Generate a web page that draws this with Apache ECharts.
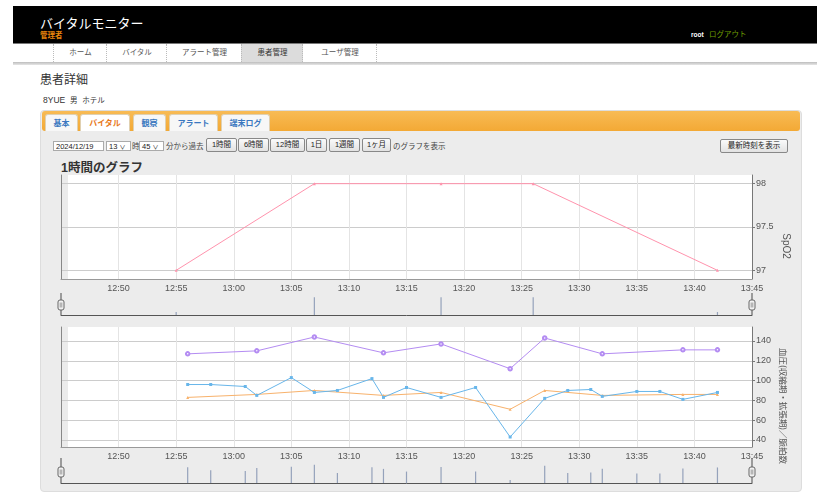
<!DOCTYPE html>
<html><head><meta charset="utf-8">
<script src="https://cdn.jsdelivr.net/npm/echarts@6.0.0/dist/echarts.min.js"></script>
<style>
html,body{margin:0;padding:0;background:#fff;width:817px;height:493px;overflow:hidden;font-family:"Liberation Sans","Noto Sans CJK JP",sans-serif;color:#333;}
.a{position:absolute;white-space:nowrap;}
.nav{position:absolute;top:44px;height:18px;line-height:18px;font-size:7.5px;color:#555;text-align:center;border-left:1px dotted #bbb;}
.tab{position:absolute;top:114px;height:17px;line-height:17px;font-size:8px;text-align:center;background:#f7f7f7;color:#3a78c0;font-weight:bold;border:1px solid #e0d0b0;border-bottom:none;border-radius:3px 3px 0 0;box-sizing:border-box;}
.btn{position:absolute;top:138px;height:14px;line-height:12px;font-size:7.5px;text-align:center;background:linear-gradient(#fafafa,#e2e2e2);border:1px solid #888;border-radius:2px;box-sizing:border-box;color:#222;}
.box{position:absolute;top:141px;height:10px;line-height:9px;font-size:7.5px;background:#fff;border:1px solid #aaa;box-sizing:border-box;padding-left:2px;color:#222;}
.t75{position:absolute;font-size:7.5px;color:#444;white-space:nowrap;}
</style></head>
<body>
<!-- header -->
<div class="a" style="left:13px;top:6px;width:804px;height:37px;background:#000;border-bottom:1px solid #777"></div>
<div class="a" style="left:40px;top:17px;color:#fff;font-size:13px;line-height:14px">バイタルモニター</div>
<div class="a" style="left:40px;top:32px;color:#e8850c;font-size:7.5px;line-height:8px;font-weight:bold">管理者</div>
<div class="a" style="left:691px;top:31px;color:#fff;font-size:6.5px;line-height:8px;font-weight:bold">root</div>
<div class="a" style="left:709px;top:30px;color:#6e9e00;font-size:7.5px;line-height:9px">ログアウト</div>
<!-- nav -->
<div class="nav" style="left:53px;width:53px">ホーム</div>
<div class="nav" style="left:106px;width:60px">バイタル</div>
<div class="nav" style="left:166px;width:75px">アラート管理</div>
<div class="nav" style="left:241px;width:61px;background:#dcdcdc;color:#333">患者管理</div>
<div class="nav" style="left:302px;width:74px">ユーザ管理</div>
<div class="a" style="left:376px;top:44px;height:18px;border-left:1px dotted #bbb"></div>
<div class="a" style="left:13px;top:62px;width:804px;height:3px;background:linear-gradient(#bdbdbd,#e6e6e6)"></div>
<!-- heading -->
<div class="a" style="left:40px;top:73px;font-size:12px;line-height:15px;color:#333">患者詳細</div>
<div class="a" style="left:43px;top:95px;font-size:8.5px;line-height:10px;color:#333">8YUE&nbsp;&nbsp;<span style="font-size:7.5px">男</span>&nbsp;&nbsp;<span style="font-size:7.5px">ホテル</span></div>
<!-- panel -->
<div class="a" style="left:40px;top:110px;width:762px;height:382px;background:#ececec;border:1px solid #ddd;border-radius:4px;box-sizing:border-box"></div>
<div class="a" style="left:42px;top:111px;width:758px;height:20px;background:linear-gradient(#f8bb55,#f3a935);border-radius:3px"></div>
<div class="tab" style="left:45px;width:33px">基本</div>
<div class="tab" style="left:80px;width:50px;background:#fff;color:#e8781a">バイタル</div>
<div class="tab" style="left:133px;width:33px">観察</div>
<div class="tab" style="left:169px;width:49px">アラート</div>
<div class="tab" style="left:221px;width:49px">端末ログ</div>
<!-- controls -->
<div class="box" style="left:53px;width:51px">2024/12/19</div>
<div class="box" style="left:106px;width:25px">13 <span style="font-size:6px">&#x2228;</span></div>
<div class="t75" style="left:132px;top:140px">時</div>
<div class="box" style="left:139px;width:25px">45 <span style="font-size:6px">&#x2228;</span></div>
<div class="t75" style="left:166px;top:140px">分から過去</div>
<div class="btn" style="left:206px;width:31px">1時間</div>
<div class="btn" style="left:238px;width:31px">6時間</div>
<div class="btn" style="left:270px;width:35px">12時間</div>
<div class="btn" style="left:306px;width:21px">1日</div>
<div class="btn" style="left:329px;width:31px">1週間</div>
<div class="btn" style="left:362px;width:29px">1ヶ月</div>
<div class="t75" style="left:393px;top:140px">のグラフを表示</div>
<div class="btn" style="left:720px;top:139px;width:68px">最新時刻を表示</div>
<div class="a" style="left:61px;top:160px;font-size:12.5px;line-height:16px;font-weight:bold;color:#333">1時間のグラフ</div>
<div id="chart" class="a" style="left:40px;top:155px;width:762px;height:335px"></div>
<script>
// ---- data ----
const xStart = '12:45', xEnd = '13:45';
const spo2Times = ['12:55','13:07','13:18','13:26','13:42'];
const spo2Values = [97, 98, 98, 98, 97];
const bpTimes = ['12:56','13:02','13:07','13:13','13:18','13:24','13:27','13:32','13:39','13:42'];
const systolic = [127, 130, 144, 128, 137, 112, 143, 127, 131, 131];
const diastolic = [83, 86, 90, 85, 88, 71, 90, 85, 86, 86];
const pulseTimes = ['12:56','12:58','13:01','13:02','13:05','13:07','13:09','13:12','13:13','13:15','13:18','13:21','13:24','13:27','13:29','13:31','13:32','13:35','13:37','13:39','13:42'];
const pulse = [96, 96, 94, 85, 103, 88, 90, 102, 83, 93, 83, 93, 43, 82, 90, 91, 84, 89, 89, 81, 88];
const spo2Ticks = [97, 97.5, 98];
const bpTicks = [40, 60, 80, 100, 120, 140];

function t(hm){ const p = hm.split(':').map(Number); return Date.UTC(2024, 11, 19, p[0], p[1]); }
function fmt(v){ const d = new Date(v); return String(d.getUTCHours()).padStart(2,'0') + ':' + String(d.getUTCMinutes()).padStart(2,'0'); }
const pairs = (times, vals) => times.map((s, i) => [t(s), vals[i]]);

// combined (average) series for the lower range selector
const comb = {};
[[bpTimes, systolic], [bpTimes, diastolic], [pulseTimes, pulse]].forEach(([ts, vs]) => {
  ts.forEach((s, i) => { const k = t(s); (comb[k] = comb[k] || []).push(vs[i]); });
});
const combData = Object.keys(comb).map(Number).sort((a,b)=>a-b).map(k => [k, comb[k].reduce((a,b)=>a+b,0) / comb[k].length]);

const X0 = t(xStart), X1 = t(xEnd);
const FF = '"Liberation Sans", Arial, sans-serif';
const L = 21, W = 691;
const grids = [
  {left:L, width:W, top:20, height:104, show:true, backgroundColor:'#fff', borderWidth:0},
  {left:L, width:W, top:140, height:20},
  {left:L, width:W, top:172, height:120, show:true, backgroundColor:'#fff', borderWidth:0},
  {left:L, width:W, top:308, height:20}
];
const xAxes = [0,1,2,3].map(i => ({
  type:'value', gridIndex:i, min:X0, max:X1, interval:300000,
  axisLine:{show:true, onZero:false, lineStyle:{color: i%2 ? '#555' : '#999', width:1}},
  axisTick:{show:false},
  axisLabel:{show: i%2===0, formatter:fmt, showMinLabel:false, showMaxLabel:true, color:'#555', fontSize:9, margin:5, fontFamily:FF},
  splitLine:{show: i%2===0, lineStyle:{color:'#e4e4e4', width:1}}
}));
function mainY(gi, mn, mx, ticks){
  return {type:'value', gridIndex:gi, position:'right', min:mn, max:mx,
    axisLine:{show:true, lineStyle:{color:'#777'}},
    axisTick:{show:true, length:3, customValues:ticks, lineStyle:{color:'#777'}},
    axisLabel:{customValues:ticks, color:'#555', fontSize:9, margin:4, fontFamily:FF},
    splitLine:{show:true, lineStyle:{color:'#cccccc'}}};
}
function leftY(gi, mn, mx){
  return {type:'value', gridIndex:gi, position:'left', min:mn, max:mx,
    axisLine:{show:true, lineStyle:{color:'#888'}}, axisTick:{show:false}, axisLabel:{show:false}, splitLine:{show:false}};
}
const yAxes = [
  mainY(0, 96.9, 98.1, spo2Ticks),
  leftY(0, 96.9, 98.1),
  {type:'value', gridIndex:1, min:96.8, max:98.15, show:false, splitLine:{show:false}},
  mainY(2, 32.9, 154.1, bpTicks),
  leftY(2, 32.9, 154.1),
  {type:'value', gridIndex:3, min:69, max:111, show:false, splitLine:{show:false}}
];
function handle(x, yTop, yBot, hy){
  return [
    {type:'line', shape:{x1:x, y1:yTop, x2:x, y2:yBot}, style:{stroke:'#666', lineWidth:1.2}, z:10},
    {type:'rect', shape:{x:x-3, y:hy, width:6, height:10, r:2}, style:{fill:'#f2f2f2', stroke:'#666', lineWidth:1}, z:11},
    {type:'line', shape:{x1:x-0.8, y1:hy+2.5, x2:x-0.8, y2:hy+7.5}, style:{stroke:'#777', lineWidth:0.7}, z:12},
    {type:'line', shape:{x1:x+0.8, y1:hy+2.5, x2:x+0.8, y2:hy+7.5}, style:{stroke:'#777', lineWidth:0.7}, z:12}
  ];
}
const option = {
  animation:false,
  grid:grids, xAxis:xAxes, yAxis:yAxes,
  series:[
    {type:'line', xAxisIndex:0, yAxisIndex:0, data:pairs(spo2Times, spo2Values), symbol:'triangle', symbolSize:3,
      lineStyle:{color:'#ff93ad', width:1}, itemStyle:{color:'#ff93ad'}},
    {type:'bar', xAxisIndex:1, yAxisIndex:2, data:pairs(spo2Times, spo2Values), barWidth:1.2, itemStyle:{color:'#95a2bb'}},
    {type:'line', xAxisIndex:2, yAxisIndex:3, data:pairs(bpTimes, systolic), symbol:'emptyCircle', symbolSize:3.5,
      lineStyle:{color:'#b48cf2', width:1}, itemStyle:{color:'#b48cf2', borderWidth:1}},
    {type:'line', xAxisIndex:2, yAxisIndex:3, data:pairs(bpTimes, diastolic), symbol:'triangle', symbolSize:3,
      lineStyle:{color:'#f8b26c', width:1}, itemStyle:{color:'#f8b26c'}},
    {type:'line', xAxisIndex:2, yAxisIndex:3, data:pairs(pulseTimes, pulse), symbol:'rect', symbolSize:3,
      lineStyle:{color:'#68b6ea', width:1}, itemStyle:{color:'#68b6ea'}},
    {type:'bar', xAxisIndex:3, yAxisIndex:5, data:combData, barWidth:1.2, itemStyle:{color:'#95a2bb'}}
  ],
  graphic:[
    {type:'rect', shape:{x:L, y:20, width:7, height:104}, style:{fill:'#ebebeb'}, z:0, z2:-0.5, silent:true},
    {type:'rect', shape:{x:L, y:172, width:7, height:120}, style:{fill:'#ebebeb'}, z:0, z2:-0.5, silent:true},
    ...handle(L, 138, 160, 145), ...handle(L+W, 138, 160, 145),
    ...handle(L, 303, 328, 312), ...handle(L+W, 303, 328, 312),
    {type:'text', x:746, y:91, rotation:-Math.PI/2, style:{text:'SpO2', fill:'#555', fontSize:10, fontFamily:FF, align:'center', verticalAlign:'middle'}},
    {type:'text', x:743, y:251, rotation:-Math.PI/2, style:{text:'血圧(収縮期・拡張期)／脈拍数', fill:'#555', fontSize:8.5, fontFamily:'"Noto Sans CJK JP", sans-serif', align:'center', verticalAlign:'middle'}}
  ]
};
const chart = echarts.init(document.getElementById('chart'), null, {renderer:'canvas'});
chart.setOption(option);
</script>
</body></html>
